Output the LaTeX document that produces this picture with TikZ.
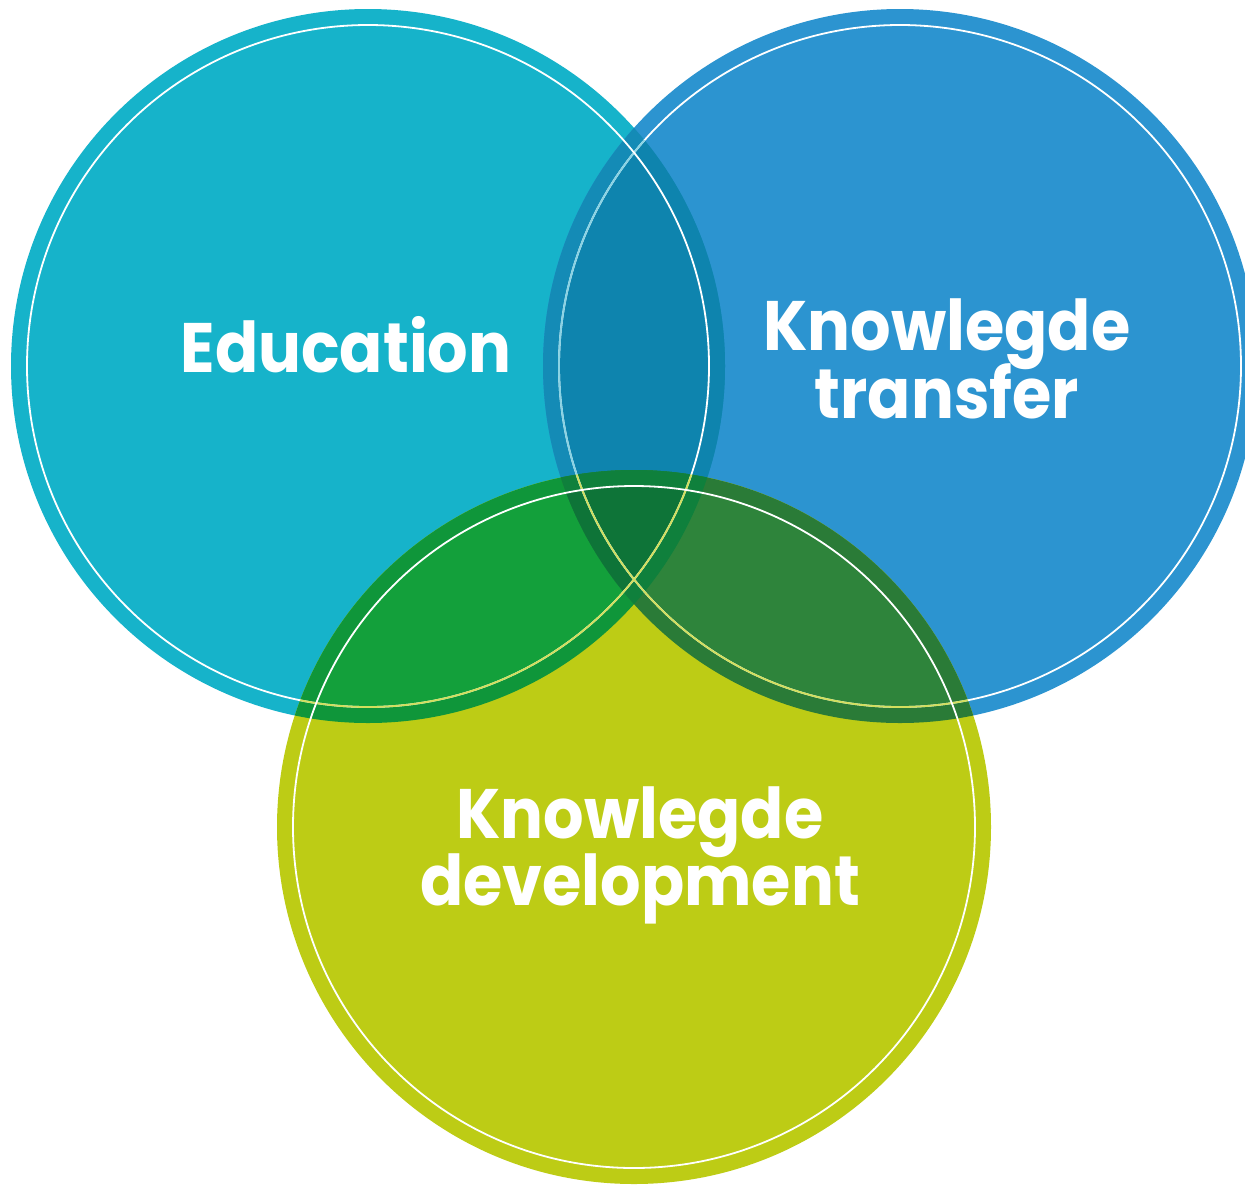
\documentclass[tikz,border=0pt]{standalone}
\usepackage{fontspec}
\setmainfont{Poppins}[FakeStretch=0.91]
\definecolor{colA}{HTML}{16B3CA}
\definecolor{colB}{HTML}{2C94D0}
\definecolor{colC}{HTML}{BDCC15}
\definecolor{colABband}{HTML}{148BB6}
\definecolor{colAB}{HTML}{0E84AE}
\definecolor{colACband}{HTML}{0F963A}
\definecolor{colAC}{HTML}{13A03B}
\definecolor{colBCband}{HTML}{2A7B37}
\definecolor{colBC}{HTML}{2E843B}
\definecolor{colABCband}{HTML}{0F803C}
\definecolor{colABC}{HTML}{0E7438}
\definecolor{lineA}{HTML}{8AD3E4}
\definecolor{lineC}{HTML}{D2DF5E}
\tikzset{
  ring/.style={draw=white, line width=1.8pt},
  label/.style={text=white, font=\fontsize{70}{68}\selectfont\bfseries, anchor=base, inner sep=0pt}
}
\begin{document}
\begin{tikzpicture}[x=1pt,y=-1pt]
\useasboundingbox (0,0) rectangle (1245,1187);
\clip (0,0) rectangle (1245,1187);
\fill[white] (0,0) rectangle (1245,1187);
\coordinate (ca) at (368,366);
\coordinate (cb) at (900,366);
\coordinate (cc) at (634,827);
% base discs
\fill[colA] (ca) circle (357pt);
\fill[colB] (cb) circle (357pt);
\fill[colC] (cc) circle (357pt);
% A and B
\begin{scope}
  \clip (ca) circle (357pt);
  \fill[colABband] (cb) circle (357pt);
  \fill[colAB] (cb) circle (341pt);
\end{scope}
% A and C
\begin{scope}
  \clip (ca) circle (357pt);
  \fill[colACband] (cc) circle (357pt);
  \clip (ca) circle (341pt);
  \fill[colAC] (cc) circle (341pt);
\end{scope}
% B and C
\begin{scope}
  \clip (cb) circle (357pt);
  \fill[colBCband] (cc) circle (357pt);
  \clip (cb) circle (341pt);
  \fill[colBC] (cc) circle (341pt);
\end{scope}
% A, B and C
\begin{scope}
  \clip (ca) circle (357pt);
  \clip (cb) circle (357pt);
  \fill[colABCband] (cc) circle (357pt);
  \clip (ca) circle (341pt);
  \fill[colABC] (cc) circle (341pt);
\end{scope}
% white rings
\draw[ring] (cb) circle (341pt);
\begin{scope}
  \clip (ca) circle (357pt);
  \draw[ring, draw=lineA] (cb) circle (341pt);
\end{scope}
\draw[ring] (ca) circle (341pt);
\begin{scope}
  \clip (cc) circle (357pt);
  \draw[ring, draw=lineC] (ca) circle (341pt);
  \draw[ring, draw=lineC] (cb) circle (341pt);
\end{scope}
\draw[ring] (cc) circle (341pt);
% labels
\node[label] (edu) at (346,372) {Education};
\node[label] (kt1) at (947,350) {Knowlegde};
\node[label] (kt2) at (947,418) {transfer};
\node[label] (kd1) at (640,838) {Knowlegde};
\node[label] (kd2) at (640,905) {development};
\end{tikzpicture}
\end{document}
